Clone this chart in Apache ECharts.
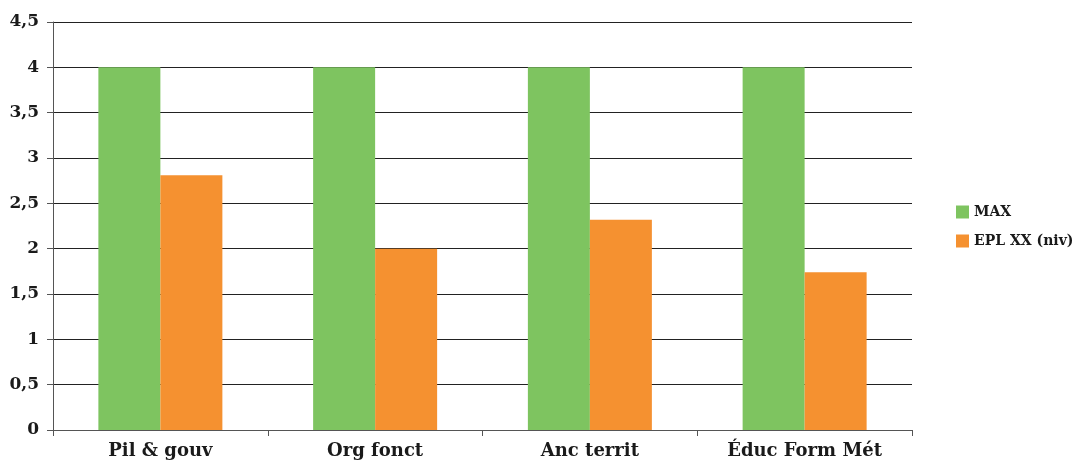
<!DOCTYPE html>
<html>
<head>
<meta charset="utf-8">
<script src="https://cdn.jsdelivr.net/npm/echarts@6/dist/echarts.min.js"></script>
<style>
  html, body { margin: 0; padding: 0; background: #fff; }
  #main { width: 1082px; height: 463px; }
</style>
</head>
<body>
<div id="main"></div>
<script>
var categories = ['Pil & gouv', 'Org fonct', 'Anc territ', 'Éduc Form Mét'];
var maxValues = [4, 4, 4, 4];
var eplValues = [2.81, 2.0, 2.32, 1.74];
var seriesNames = ['MAX', 'EPL XX (niv)'];

var fontFam = '"DejaVu Serif", "Liberation Serif", serif';
var myChart = echarts.init(document.getElementById('main'));

var option = {
    animation: false,
    textStyle: { fontFamily: fontFam },
    grid: { left: 53, right: 170, top: 22, bottom: 33, containLabel: false },
    legend: {
        orient: 'vertical',
        left: 951,
        top: 200,
        itemWidth: 13,
        itemHeight: 13,
        itemGap: 15,
        icon: 'rect',
        textStyle: { fontFamily: fontFam, fontWeight: 'bold', fontSize: 14, color: '#1a1a1a' },
        data: seriesNames
    },
    xAxis: {
        type: 'category',
        data: categories,
        axisLine: { lineStyle: { color: '#555', width: 1 } },
        axisTick: { show: true, length: 6, lineStyle: { color: '#555' } },
        axisLabel: { fontFamily: fontFam, fontWeight: 'bold', fontSize: 18, color: '#1a1a1a', margin: 12 }
    },
    yAxis: {
        type: 'value',
        min: 0,
        max: 4.5,
        interval: 0.5,
        axisLine: { show: true, lineStyle: { color: '#555', width: 1 } },
        axisTick: { show: true, length: 6, lineStyle: { color: '#555' } },
        splitLine: { lineStyle: { color: '#222', width: 1.2 } },
        axisLabel: {
            fontFamily: fontFam, fontWeight: 'bold', fontSize: 17, color: '#1a1a1a', margin: 14,
            formatter: function (v) { return String(v).replace('.', ','); }
        }
    },
    series: [
        {
            name: seriesNames[0],
            type: 'bar',
            data: maxValues,
            barWidth: 62,
            barGap: '0%',
            itemStyle: { color: '#7EC460' }
        },
        {
            name: seriesNames[1],
            type: 'bar',
            data: eplValues,
            barWidth: 62,
            barGap: '0%',
            itemStyle: { color: '#F59130' }
        }
    ]
};
myChart.setOption(option);
</script>
</body>
</html>
